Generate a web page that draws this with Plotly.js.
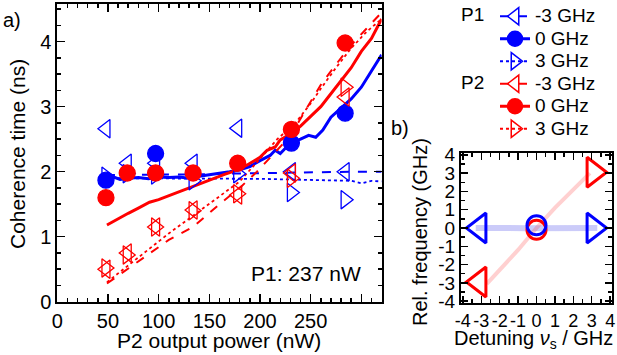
<!DOCTYPE html>
<html><head><meta charset="utf-8">
<script src="https://cdn.plot.ly/plotly-3.0.1.min.js"></script>
<style>html,body{margin:0;padding:0;background:#fff}</style>
</head><body><div id="chart" style="width:617px;height:355px"></div>
<script>
// ---------- data (panel a) ----------
const powerX   = [48, 69, 97, 134, 178, 231, 284];          // P2 output power (nW)
const p1MinusY = [2.66, 2.13, 2.13, 2.13, 2.67, 2.00, 2.00]; // P1, -3 GHz
const p1ZeroX  = [48, 97, 231, 284];
const p1ZeroY  = [1.87, 2.28, 2.44, 2.90];                   // P1, 0 GHz
const p1PlusY  = [1.93, 1.97, 1.95, 1.86, 1.97, 1.68, 1.57]; // P1, 3 GHz
const p2MinusY = [0.50, 0.75, 1.15, 1.41, 1.64, 1.98, 3.15]; // P2, -3 GHz
const p2ZeroY  = [1.60, 1.98, 1.98, 1.98, 2.13, 2.65, 3.98]; // P2, 0 GHz
const p2PlusY  = [0.52, 0.72, 1.15, 1.40, 1.66, 1.90, 3.30]; // P2, 3 GHz

// model curves
const m1ZeroX  = [48, 55, 62, 70, 80, 90, 100, 110, 120, 130, 140, 150, 160, 170, 180, 190, 200, 210, 215, 220, 225, 232, 240, 248, 255, 262, 270, 280, 290, 300, 310, 320];
const m1ZeroY  = [1.90, 1.92, 1.88, 1.90, 1.91, 1.89, 1.92, 1.91, 1.92, 1.90, 1.93, 1.95, 1.97, 2.00, 2.03, 2.08, 2.17, 2.25, 2.33, 2.28, 2.36, 2.45, 2.50, 2.56, 2.53, 2.64, 2.84, 2.98, 3.12, 3.30, 3.55, 3.80];
const m1MinusX = [48, 80, 110, 140, 170, 200, 230, 260, 290, 320];
const m1MinusY = [1.95, 1.95, 1.96, 1.96, 1.97, 1.98, 1.98, 1.99, 2.00, 2.00];
const m1PlusX  = [48, 80, 110, 140, 170, 200, 230, 260, 290, 300, 310, 320];
const m1PlusY  = [1.90, 1.90, 1.90, 1.90, 1.90, 1.89, 1.88, 1.87, 1.86, 1.82, 1.86, 1.85];
const m2ZeroX  = [49, 60, 70, 80, 91, 100, 110, 120, 128, 140, 154, 165, 173, 187, 200, 207, 215, 220, 232, 240, 250, 260, 269, 280, 290, 300, 310, 320];
const m2ZeroY  = [1.18, 1.28, 1.36, 1.44, 1.53, 1.57, 1.63, 1.70, 1.75, 1.82, 1.90, 1.96, 2.00, 2.10, 2.22, 2.33, 2.38, 2.49, 2.60, 2.70, 2.85, 3.00, 3.18, 3.40, 3.60, 3.85, 4.05, 4.35];
const m2MinusX = [49, 80, 110, 134, 160, 180, 197, 215, 230, 245, 261, 275, 290, 305, 320];
const m2MinusY = [0.28, 0.62, 0.95, 1.15, 1.50, 1.75, 2.00, 2.30, 2.55, 2.95, 3.36, 3.65, 3.95, 4.20, 4.45];
const m2PlusX  = [49, 80, 110, 132, 160, 180, 200, 217, 235, 250, 261, 275, 290, 305, 320];
const m2PlusY  = [0.30, 0.68, 1.05, 1.30, 1.62, 1.85, 2.20, 2.50, 2.75, 3.05, 3.30, 3.60, 3.90, 4.15, 4.35];

const legendNames = ['-3 GHz', '0 GHz', '3 GHz'];

// ---------- data (panel b) ----------
const bandBlueX = [-3.3, -2.5, -1.5, -0.5, 0.5, 1.5, 2.5, 3.3];
const bandBlueY = [0, 0.03, 0, -0.02, 0, 0.03, 0, 0];
const bandRedX  = [-2.7, -1.0, 0, 1.0, 2.9];
const bandRedY  = [-3.05, -1.2, 0, 1.1, 3.0];
const bBlueTriX = [-3.1, 3.1];
const bBlueTriY = [0, 0];
const bRedTriX  = [-3.1, 3.1];
const bRedTriY  = [-2.95, 3.05];
const bBlueCircY = [0.15];
const bRedCircY  = [-0.1];
const bTicks = [-4, -3, -2, -1, 0, 1, 2, 3, 4];
const bTickText = ['-4', '-3', '-2', '-1', '0', '1', '2', '3', '4'];

const BLUE = 'rgb(0,0,255)', RED = 'rgb(255,0,0)';
const FONT = 'Liberation Sans, Arial, sans-serif';
const lg = s => '<span style="font-size:19px">' + s + '</span>';

function model(x, y, color, dash, width, symbol, name) {
  return {x, y, type: 'scatter', mode: 'lines+markers', name: lg(name),
    line: {color, dash, width},
    marker: {symbol, size: 15, color, line: {color, width: 1.5}},
    selectedpoints: [], unselected: {marker: {opacity: 0}},
    hoverinfo: 'skip', xaxis: 'x', yaxis: 'y'};
}
function pts(x, y, color, symbol, size) {
  return {x, y, type: 'scatter', mode: 'markers', showlegend: false,
    marker: {symbol, size, color, line: {color, width: 1.3}}, xaxis: 'x', yaxis: 'y'};
}

const traces = [
  model(m1MinusX, m1MinusY, BLUE, 'dash', 2, 'triangle-left-open', legendNames[0]),
  model(m1ZeroX, m1ZeroY, BLUE, 'solid', 3, 'circle', legendNames[1]),
  model(m1PlusX, m1PlusY, BLUE, 'dot', 1.8, 'triangle-right-open', legendNames[2]),
  model(m2MinusX, m2MinusY, RED, 'dash', 2, 'triangle-left-open', legendNames[0]),
  model(m2ZeroX, m2ZeroY, RED, 'solid', 3, 'circle', legendNames[1]),
  model(m2PlusX, m2PlusY, RED, 'dot', 1.8, 'triangle-right-open', legendNames[2]),
  pts(powerX, p1MinusY, BLUE, 'triangle-left-open', 16),
  pts(powerX, p1PlusY, BLUE, 'triangle-right-open', 16),
  pts(p1ZeroX, p1ZeroY, BLUE, 'circle', 16),
  pts(powerX, p2MinusY, RED, 'triangle-left-open', 16),
  pts(powerX, p2PlusY, RED, 'triangle-right-open', 16),
  pts(powerX, p2ZeroY, RED, 'circle', 16),
  // panel b
  {x: bandBlueX, y: bandBlueY, mode: 'lines', showlegend: false, line: {color: 'rgba(70,70,235,0.28)', width: 6}, xaxis: 'x2', yaxis: 'y2', hoverinfo: 'skip'},
  {x: bandRedX, y: bandRedY, mode: 'lines', showlegend: false, line: {color: 'rgba(255,40,40,0.22)', width: 4}, xaxis: 'x2', yaxis: 'y2', hoverinfo: 'skip'},
  {x: bRedTriX, y: bRedTriY, mode: 'markers', showlegend: false, xaxis: 'x2', yaxis: 'y2',
   marker: {symbol: ['triangle-left-open', 'triangle-right-open'], size: 26, color: RED, line: {color: RED, width: 3}}},
  {x: [0], y: bRedCircY, mode: 'markers', showlegend: false, xaxis: 'x2', yaxis: 'y2',
   marker: {symbol: 'circle-open', size: 19, color: RED, line: {color: RED, width: 3}}},
  {x: bBlueTriX, y: bBlueTriY, mode: 'markers', showlegend: false, xaxis: 'x2', yaxis: 'y2',
   marker: {symbol: ['triangle-left-open', 'triangle-right-open'], size: 26, color: BLUE, line: {color: BLUE, width: 3}}},
  {x: [0], y: bBlueCircY, mode: 'markers', showlegend: false, xaxis: 'x2', yaxis: 'y2',
   marker: {symbol: 'circle-open', size: 19, color: BLUE, line: {color: BLUE, width: 3}}}
];

const W = 617, H = 355;
const px = v => v / W, py = v => 1 - v / H;
const axBase = {showline: true, linecolor: 'black', linewidth: 2, mirror: 'allticks',
  ticks: 'inside', ticklen: 8, tickwidth: 1.5, tickcolor: 'black', showgrid: false, zeroline: false,
  tickfont: {size: 20, family: FONT, color: 'black'}, fixedrange: true};

const layout = {
  width: W, height: H, margin: {l: 0, r: 0, t: 0, b: 0},
  paper_bgcolor: 'white', plot_bgcolor: 'white',
  font: {family: FONT, color: 'black'},
  xaxis: Object.assign({}, axBase, {domain: [px(57.3), px(381.6)], range: [0, 320], dtick: 50, tick0: 0,
    labelalias: {'300': ''}, minor: {dtick: 10, ticklen: 4, tickwidth: 1.5, ticks: 'inside', tickcolor: 'black'}, anchor: 'y'}),
  yaxis: Object.assign({}, axBase, {domain: [py(301.7), py(4)], range: [0, 4.58], dtick: 1, tick0: 0,
    minor: {dtick: 0.25, ticklen: 4, tickwidth: 1.5, ticks: 'inside', tickcolor: 'black'}, anchor: 'x'}),
  xaxis2: Object.assign({}, axBase, {domain: [px(461), px(612)], range: [-4.1, 4.1], tickmode: 'array',
    tickvals: bTicks, ticktext: bTickText, tickangle: 0, ticklen: 7, tickfont: {size: 18, family: FONT, color: 'black'},
    minor: {dtick: 0.5, ticklen: 4, tickwidth: 1.5, ticks: 'inside', tickcolor: 'black'}, anchor: 'y2'}),
  yaxis2: Object.assign({}, axBase, {domain: [py(303), py(153)], range: [-4.1, 4.1], tickmode: 'array',
    tickvals: bTicks, ticktext: bTickText, ticklen: 7, tickfont: {size: 19, family: FONT, color: 'black'},
    minor: {dtick: 0.5, ticklen: 4, tickwidth: 1.5, ticks: 'inside', tickcolor: 'black'}, anchor: 'x2'}),
  showlegend: true,
  legend: {x: px(495), xanchor: 'left', y: 1, yanchor: 'top', font: {size: 15, family: FONT, color: 'black'},
    bgcolor: 'rgba(0,0,0,0)', tracegroupgap: 0, itemwidth: 30, traceorder: 'normal'},
  annotations: [
    {text: 'a)', x: px(1), y: py(20), xref: 'paper', yref: 'paper', xanchor: 'left', yanchor: 'middle', showarrow: false, font: {size: 20}},
    {text: 'b)', x: px(389), y: py(128), xref: 'paper', yref: 'paper', xanchor: 'left', yanchor: 'middle', showarrow: false, font: {size: 20}},
    {text: 'P1: 237 nW', x: px(363), y: py(273), xref: 'paper', yref: 'paper', xanchor: 'right', yanchor: 'middle', showarrow: false, font: {size: 21}},
    {text: 'P1', x: px(486), y: py(15), xref: 'paper', yref: 'paper', xanchor: 'right', yanchor: 'middle', showarrow: false, font: {size: 19}},
    {text: 'P2', x: px(486), y: py(82), xref: 'paper', yref: 'paper', xanchor: 'right', yanchor: 'middle', showarrow: false, font: {size: 19}},
    {text: 'P2 output power (nW)', x: px(219.5), y: py(340), xref: 'paper', yref: 'paper', xanchor: 'center', yanchor: 'middle', showarrow: false, font: {size: 21}},
    {text: 'Coherence time (ns)', x: px(17), y: py(154), xref: 'paper', yref: 'paper', xanchor: 'center', yanchor: 'middle', textangle: -90, showarrow: false, font: {size: 21}},
    {text: 'Detuning <i>ν</i><sub>s</sub> / GHz', x: px(533), y: py(339), xref: 'paper', yref: 'paper', xanchor: 'center', yanchor: 'middle', showarrow: false, font: {size: 20}},
    {text: 'Rel. frequency (GHz)', x: px(420), y: py(232), xref: 'paper', yref: 'paper', xanchor: 'center', yanchor: 'middle', textangle: -90, showarrow: false, font: {size: 20}}
  ]
};

Plotly.newPlot('chart', traces, layout, {staticPlot: true, displayModeBar: false});
</script></body></html>
